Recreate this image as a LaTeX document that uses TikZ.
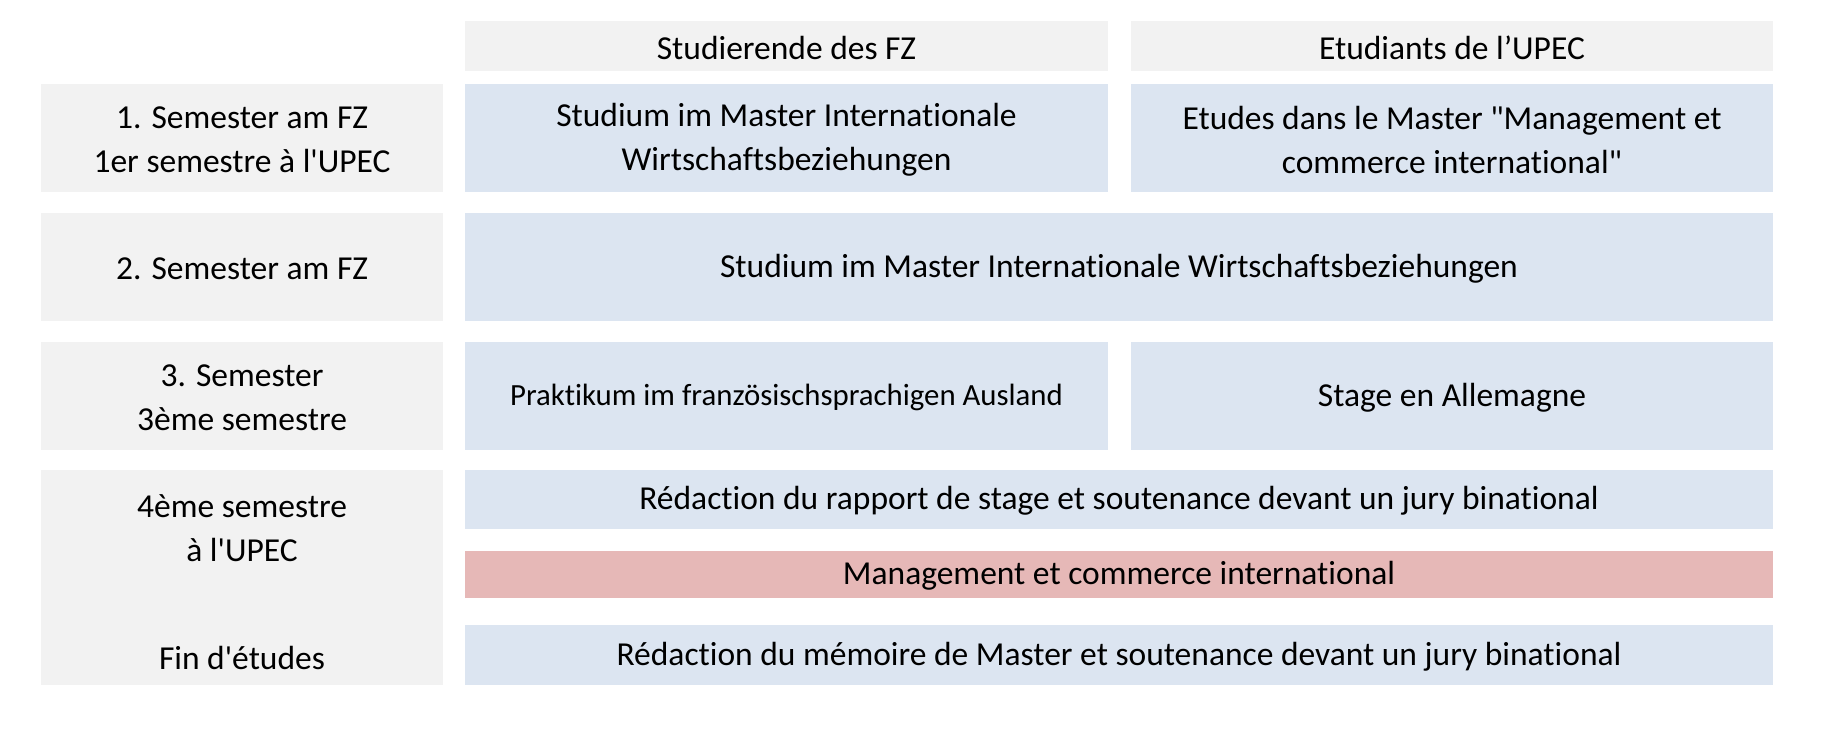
\documentclass[tikz,border=0pt]{standalone}
\usepackage{fontspec}
\newfontfamily\cf{Carlito}[Ligatures=NoCommon]
\definecolor{grayfill}{HTML}{F2F2F2}
\definecolor{bluefill}{HTML}{DCE5F1}
\definecolor{pinkfill}{HTML}{E6B8B7}
\tikzset{
  lbl/.style={inner sep=0pt, align=center, font=\cf\fontsize{33.5}{44}\selectfont, text=black},
  cell/.style={rectangle, inner sep=0pt, outer sep=0pt, anchor=north west,
    label={[lbl, yshift=-1.5pt]center:#1}},
  graycell/.style={cell=#1, fill=grayfill},
  bluecell/.style={cell=#1, fill=bluefill},
  pinkcell/.style={cell=#1, fill=pinkfill}
}
\begin{document}
\begin{tikzpicture}[x=1pt,y=-1pt]
\useasboundingbox (0,0) rectangle (1828,740);
% header
\node[graycell={Studierende des FZ}, minimum width=643pt, minimum height=50pt] (hfz) at (465,21) {};
\node[graycell={Etudiants de l’UPEC}, minimum width=642pt, minimum height=50pt] (hupec) at (1131,21) {};
% row 1
\node[graycell={1. Semester am FZ\\1er semestre à l'UPEC}, minimum width=402pt, minimum height=108pt] (s1) at (41,84) {};
\node[bluecell={Studium im Master Internationale\\Wirtschaftsbeziehungen}, minimum width=643pt, minimum height=108pt] (r1a) at (465,84) {};
\node[bluecell={Etudes dans le Master "Management et\\commerce international"}, minimum width=642pt, minimum height=108pt] (r1b) at (1131,84) {};
% row 2
\node[graycell={2. Semester am FZ}, minimum width=402pt, minimum height=108pt] (s2) at (41,213) {};
\node[bluecell={Studium im Master Internationale Wirtschaftsbeziehungen}, minimum width=1308pt, minimum height=108pt] (r2) at (465,213) {};
% row 3
\node[graycell={3. Semester\\3ème semestre}, minimum width=402pt, minimum height=108pt] (s3) at (41,342) {};
\node[bluecell={\fontsize{30.8}{40}\selectfont Praktikum im französischsprachigen Ausland}, minimum width=643pt, minimum height=108pt] (r3a) at (465,342) {};
\node[bluecell={Stage en Allemagne}, minimum width=642pt, minimum height=108pt] (r3b) at (1131,342) {};
% row 4
\node[fill=grayfill, inner sep=0pt, anchor=north west, minimum width=402pt, minimum height=215pt] (s4) at (41,470) {};
\node[lbl] (s4t) at (242,528) {4ème semestre\\à l'UPEC};
\node[lbl] (s4f) at (242,658) {Fin d'études};
\node[bluecell={Rédaction du rapport de stage et soutenance devant un jury binational}, minimum width=1308pt, minimum height=59pt] (r4a) at (465,470) {};
\node[pinkcell={Management et commerce international}, minimum width=1308pt, minimum height=47pt] (r4b) at (465,551) {};
\node[bluecell={Rédaction du mémoire de Master et soutenance devant un jury binational}, minimum width=1308pt, minimum height=60pt] (r4c) at (465,625) {};
\end{tikzpicture}
\end{document}
